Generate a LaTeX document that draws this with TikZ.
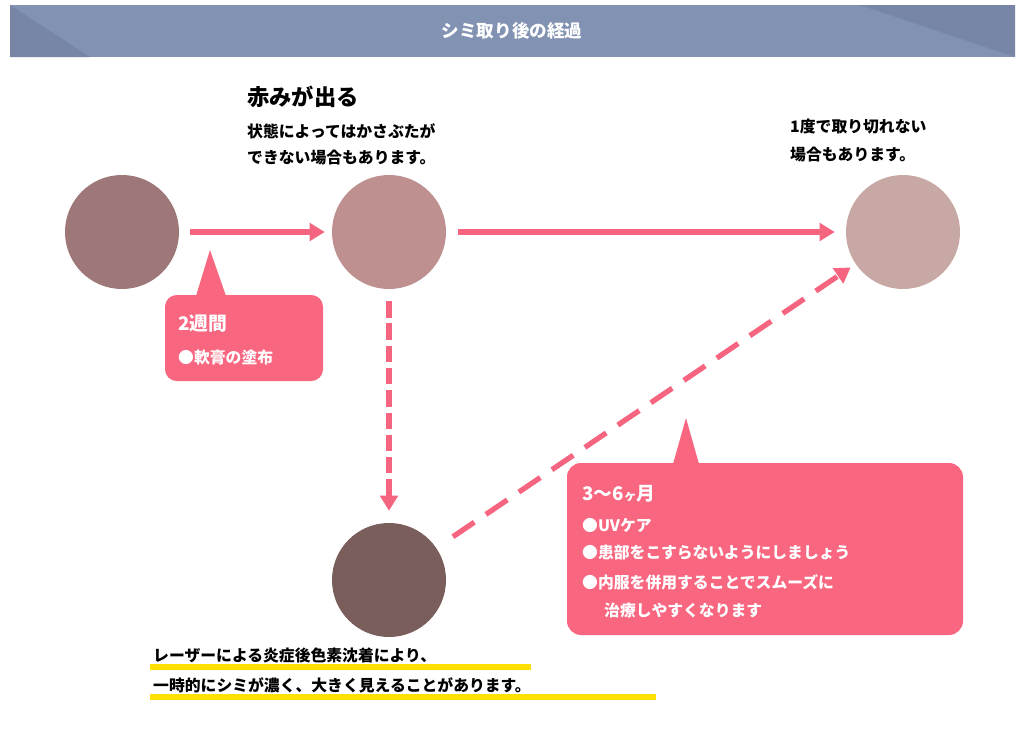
\documentclass[tikz,border=0pt]{standalone}
\usepackage{fontspec}
\setmainfont{Noto Sans CJK JP}
\usetikzlibrary{arrows.meta}
\definecolor{hdr}{HTML}{8292B2}
\definecolor{hdrd}{HTML}{7786A6}
\definecolor{pinkc}{HTML}{F6657F}
\definecolor{boxc}{HTML}{F86680}
\definecolor{hl}{HTML}{FFE000}
\tikzset{
  spot/.style={circle,minimum size=3.42cm,inner sep=0pt},
  flow/.style={pinkc,line width=4.5pt,-{Triangle[length=13pt,width=15pt]}},
  txt/.style={anchor=west,inner sep=0pt,font=\bfseries\fontsize{13.5}{15}\selectfont},
  boxtxt/.style={txt,text=white}
}
\begin{document}
\begin{tikzpicture}[x=0.03cm,y=-0.03cm]
        \useasboundingbox (0,0) rectangle (1024,729);
        \fill[white] (0,0) rectangle (1024,729);

        % header
        \fill[hdr] (10,5) rectangle (1015,57);
        \fill[hdrd] (10,5) -- (90,57) -- (10,57) -- cycle;
        \fill[hdrd] (860,5) -- (1015,5) -- (1015,57) -- cycle;
        \node[text=white,font=\bfseries\fontsize{15}{17}\selectfont] (title) at (512,31) {シミ取り後の経過};

        % spots
        \node[spot,fill={rgb,255:red,158;green,120;blue,120}] (c1) at (122,232) {};
        \node[spot,fill={rgb,255:red,190;green,144;blue,144}] (c2) at (389,232) {};
        \node[spot,fill={rgb,255:red,200;green,168;blue,164}] (c3) at (903,232) {};
        \node[spot,fill={rgb,255:red,122;green,94;blue,92}] (c4) at (389,580) {};

        % connectors
        \draw[flow,shorten <=11*0.03cm,shorten >=7*0.03cm] (c1) -- (c2);
        \draw[flow,shorten <=12*0.03cm,shorten >=11*0.03cm] (c2) -- (c3);
        \draw[flow,dash pattern=on 14pt off 5pt,shorten <=12*0.03cm,shorten >=12*0.03cm] (c2) -- (c4);
        \draw[flow,dash pattern=on 22pt off 12pt,shorten <=20*0.03cm,shorten >=6*0.03cm] (c4) -- (c3);

        % callouts
        \fill[boxc,rounded corners=10pt] (165,295) rectangle (323,381);
        \fill[boxc] (196,296) -- (210,250) -- (226,296) -- cycle;
        \node[boxtxt,font=\bfseries\fontsize{16}{18}\selectfont] (t1) at (178,324) {2週間};
        \node[boxtxt] (t2) at (178,357) {●軟膏の塗布};

        \fill[boxc,rounded corners=12pt] (567,463) rectangle (963,635);
        \fill[boxc] (673,464) -- (686,418) -- (699,464) -- cycle;
        \node[boxtxt,font=\bfseries\fontsize{16}{18}\selectfont] (m0) at (582,494) {3〜6{\fontsize{11}{13}\selectfont ヶ}月};
        \node[boxtxt] (m1) at (582,525) {●UVケア};
        \node[boxtxt] (m2) at (582,553) {●患部をこすらないようにしましょう};
        \node[boxtxt] (m3) at (582,582) {●内服を併用することでスムーズに};
        \node[boxtxt] (m4) at (604,610) {治療しやすくなります};

        % notes
        \node[txt,font=\bfseries\fontsize{19}{21}\selectfont] (red) at (247,97) {赤みが出る};
        \node[txt] (r1) at (247,131) {状態によってはかさぶたが};
        \node[txt] (r2) at (247,158) {できない場合もあります。};
        \node[txt] (n1) at (790,127) {1度で取り切れない};
        \node[txt] (n2) at (790,155) {場合もあります。};

        \fill[hl] (150,664) rectangle (531,670);
        \fill[hl] (150,694) rectangle (656,700);
        \node[txt] (b1) at (153,655) {レーザーによる炎症後色素沈着により、};
        \node[txt] (b2) at (153,685) {一時的にシミが濃く、大きく見えることがあります。};
\end{tikzpicture}
\end{document}
